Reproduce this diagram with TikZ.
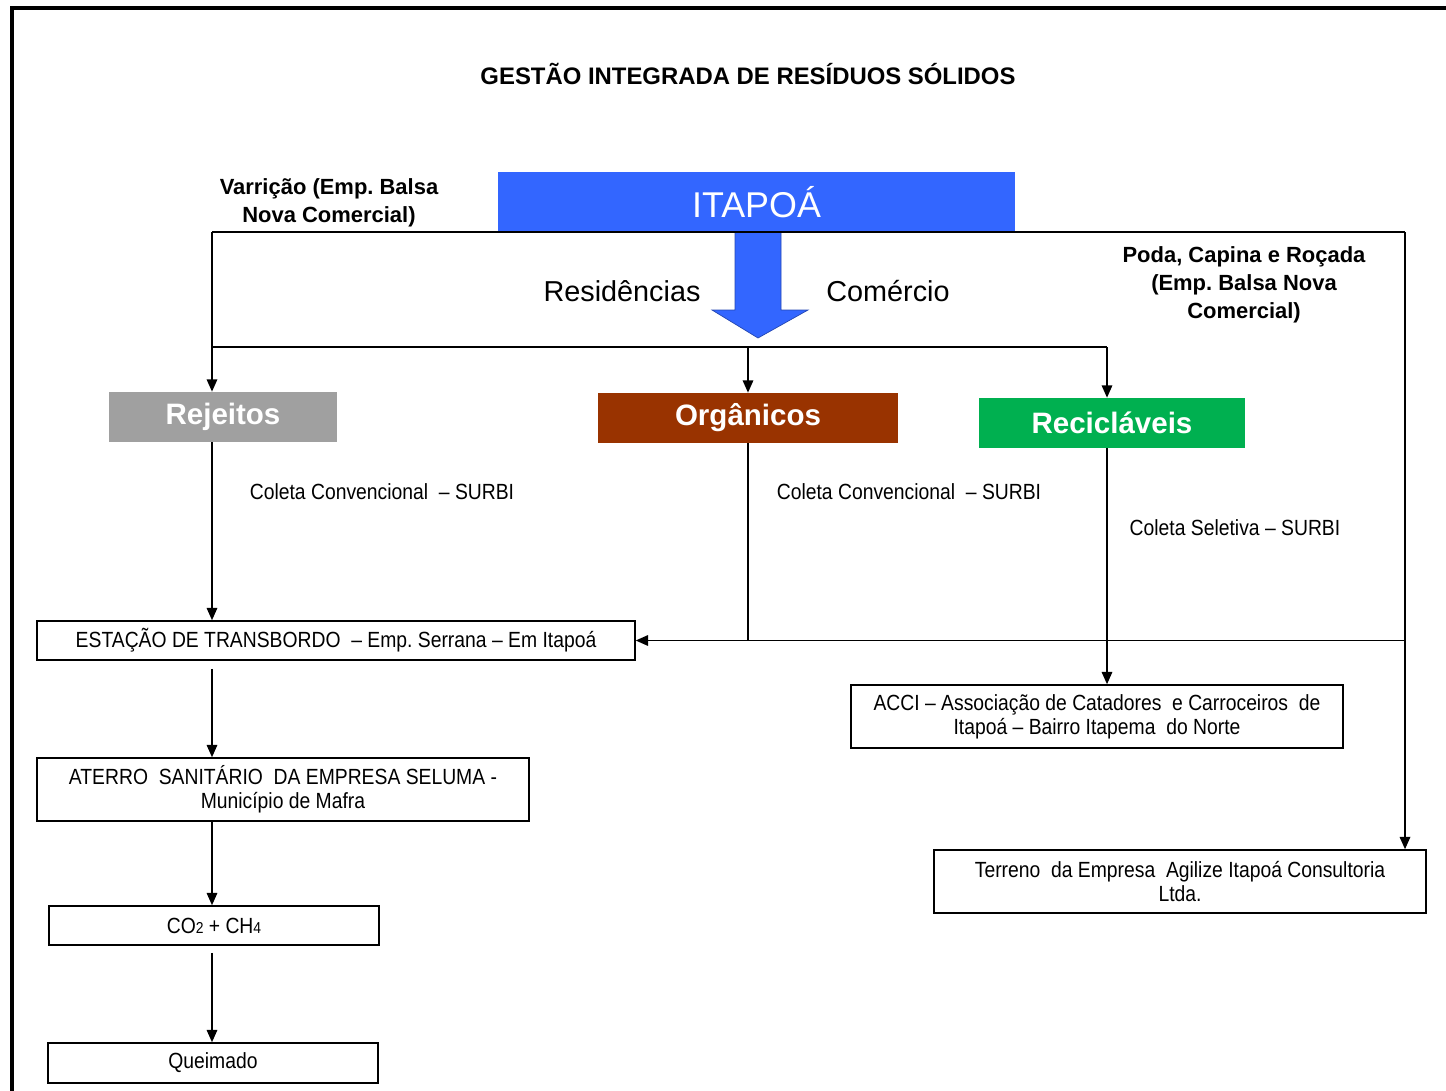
\documentclass[tikz,border=0pt]{standalone}
\usepackage{fontspec}
\setmainfont{Liberation Sans}
\newfontfamily\narrowfont[FakeStretch=0.88]{Liberation Sans}
\usetikzlibrary{arrows.meta}
\frenchspacing

\definecolor{itablue}{HTML}{3366FF}
\definecolor{rejgray}{HTML}{A0A0A0}
\definecolor{orgbrown}{HTML}{993300}
\definecolor{recgreen}{HTML}{00B050}

\newcommand\lowdigit[1]{{\fontsize{9}{10}\selectfont #1}}

\begin{document}
\begin{tikzpicture}[x=0.02cm, y=-0.02cm,
	flow/.style={line width=0.85pt},
	arr/.style={flow, -{Triangle[length=7pt,width=6pt]}},
	wastebox/.style={draw, line width=0.9pt, inner sep=0pt, align=center, font=\narrowfont\fontsize{12.5}{13.6}\selectfont},
	classbox/.style={inner sep=0pt, minimum height=1cm, text=white, font=\bfseries\fontsize{16.8}{18}\selectfont},
	boldnote/.style={align=center, font=\bfseries\fontsize{12.5}{15.9}\selectfont},
	collect/.style={font=\narrowfont\fontsize{12.5}{14}\selectfont}]
	\useasboundingbox (0,0) rectangle (1446,1091);
	\draw[line width=2pt] (12,1091) -- (12,8) -- (1446,8);

	\node[font=\bfseries\fontsize{13.6}{15}\selectfont] (title) at (748,74) {GESTÃO INTEGRADA DE RESÍDUOS SÓLIDOS};

	% origem
	\node[fill=itablue, text=white, inner sep=0pt, minimum width=10.34cm, minimum height=1.2cm, font=\fontsize{20.4}{22}\selectfont] (ita) at (756.5,202) {ITAPOÁ};
	\fill[itablue, draw=itablue!70!black, line width=0.4pt] (735,232) -- (781,232) -- (781,310) -- (808,310) -- (758,338) -- (712,310) -- (735,310) -- cycle;
	\node[font=\fontsize{16.4}{18}\selectfont] (res) at (622,291) {Residências};
	\node[font=\fontsize{16.4}{18}\selectfont] (com) at (888,291) {Comércio};
	\node[boldnote] (varr) at (329,203) {Varrição (Emp. Balsa\\Nova Comercial)};
	\node[boldnote] (poda) at (1244,285) {Poda, Capina e Roçada\\(Emp. Balsa Nova\\Comercial)};

	% classes de residuos
	\node[classbox, fill=rejgray, minimum width=4.56cm] (rej) at (223,417) {Rejeitos};
	\node[classbox, fill=orgbrown, minimum width=6cm] (org) at (748,418) {Orgânicos};
	\node[classbox, fill=recgreen, minimum width=5.32cm] (rec) at (1112,423) {Recicláveis};

	\node[collect] (col1) at (382,492) {Coleta Convencional~ – SURBI};
	\node[collect] (col2) at (909,492) {Coleta Convencional~ – SURBI};
	\node[collect] (col3) at (1235,528) {Coleta Seletiva – SURBI};

	% destinos
	\node[wastebox, minimum width=11.96cm, minimum height=0.78cm] (est) at (336,640.5) {ESTAÇÃO DE TRANSBORDO~ – Emp. Serrana – Em Itapoá};
	\node[wastebox, minimum width=9.84cm, minimum height=1.26cm] (ate) at (283,789.5) {ATERRO~ SANITÁRIO~ DA EMPRESA SELUMA -\\Município de Mafra};
	\node[wastebox, minimum width=6.6cm, minimum height=0.78cm] (co2) at (214,925.5) {CO\lowdigit{2} + CH\lowdigit{4}};
	\node[wastebox, minimum width=6.6cm, minimum height=0.8cm] (que) at (213,1063) {Queimado};
	\node[wastebox, minimum width=9.84cm, minimum height=1.26cm] (acc) at (1097,716.5) {ACCI – Associação de Catadores~ e Carroceiros~ de\\Itapoá – Bairro Itapema~ do Norte};
	\node[wastebox, minimum width=9.84cm, minimum height=1.26cm] (ter) at (1180,881.5) {Terreno~ da Empresa~ Agilize Itapoá Consultoria\\Ltda.};

	\coordinate (topL) at (212,232);
	\coordinate (topR) at (1405,232);
	\coordinate (busL) at (212,347);
	\coordinate (busR) at (1107,347);
	\coordinate (joinR) at (topR |- est.east);

	\draw[flow] (topL) -- (topR);
	\draw[arr] (topL) -- (topL |- rej.north);
	\draw[flow] (busL) -- (busR);
	\draw[arr] (org.north |- busL) -- (org.north);
	\draw[arr] (busR) -- (busR |- rec.north);
	\draw[arr] (topR) -- (topR |- ter.north);
	\draw[arr] (joinR) -- (est.east);
	\draw[flow] (org.south) -- (org.south |- joinR);
	\draw[arr] (rej.south -| topL) -- (est.north -| topL);
	\draw[arr] (rec.south -| busR) -- (acc.north -| busR);
	\draw[arr, shorten <=0.16cm] (est.south -| topL) -- (ate.north -| topL);
	\draw[arr] (ate.south -| topL) -- (co2.north -| topL);
	\draw[arr, shorten <=0.14cm] (co2.south -| topL) -- (que.north -| topL);
\end{tikzpicture}
\end{document}
